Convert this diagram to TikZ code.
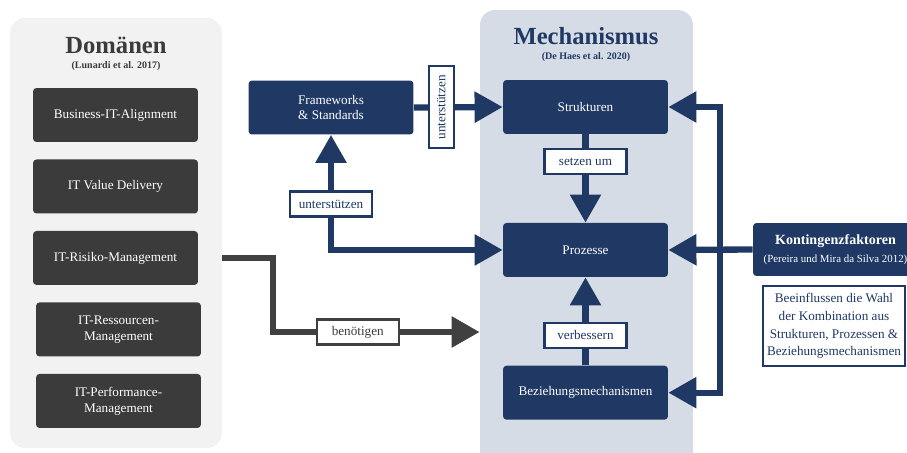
\documentclass[tikz,border=0pt]{standalone}
\usepackage{fontspec}
\setmainfont{Liberation Serif}
\usetikzlibrary{shapes,arrows.meta,positioning}
\definecolor{navy}{RGB}{31,56,100}
\definecolor{darkbox}{RGB}{59,59,59}
\definecolor{grayline}{RGB}{64,64,64}
\definecolor{domgray}{RGB}{242,242,242}
\definecolor{mechblue}{RGB}{214,220,229}
\tikzset{basic/.style={draw=none,rounded corners=2pt,text=white,align=center,font=\fontsize{7.5}{9}\selectfont,minimum width=3.3cm,minimum height=1.08cm}}
\tikzset{dombox/.style={basic,fill=darkbox}}
\tikzset{mechbox/.style={basic,fill=navy}}
\tikzset{panel/.style={rectangle,rounded corners=0.3cm,draw=none}}
\tikzset{conn/.style={draw=navy,line width=3.6pt,>={Triangle[width=17pt,length=16pt]},->}}
\tikzset{grayconn/.style={conn,draw=grayline}}
\tikzset{tagbox/.style={rectangle,draw=navy,line width=1.3pt,fill=white,text=navy,font=\fontsize{7.5}{9}\selectfont,minimum width=1.64cm,minimum height=0.5cm,inner sep=1pt}}
\tikzset{headline/.style={font=\fontsize{14}{16}\selectfont\bfseries}}
\tikzset{citeline/.style={font=\fontsize{5.7}{7}\selectfont\bfseries}}

\begin{document}
\begin{tikzpicture}[x=0.02cm,y=-0.02cm,node distance=1.43cm]
    \useasboundingbox (0,0) rectangle (907,453);

    % panels
    \node[panel,fill=domgray,minimum width=4.24cm,minimum height=8.6cm] (dom) at (116,233) {};
    \node[panel,fill=mechblue,minimum width=4.26cm,minimum height=9.2cm] (mechp) at (586.5,240) {};

    \node[headline,text=darkbox] (domt) at (116,45) {Domänen};
    \node[citeline,text=darkbox] (domc) at (116,66) {(Lunardi et al. 2017)};
    \node[headline,text=navy] (mecht) at (586,36) {Mechanismus};
    \node[citeline,text=navy] (mechc) at (586,57) {(De Haes et al. 2020)};

    % domains
    \node[dombox] (d1) at (115.5,115) {Business-IT-Alignment};
    \node[dombox,below of=d1] (d2) {IT Value Delivery};
    \node[dombox,below of=d2] (d3) {IT-Risiko-Management};
    \node[dombox,below of=d3,xshift=0.06cm] (d4) {IT-Ressourcen-\\Management};
    \node[dombox,below of=d4] (d5) {IT-Performance-\\Management};

    % mechanisms
    \node[mechbox] (struk) at (585.5,107) {Strukturen};
    \node[mechbox,below of=struk,node distance=2.86cm] (proz) {Prozesse};
    \node[mechbox,below of=proz,node distance=2.855cm] (bez) {Beziehungsmechanismen};
    \node[mechbox] (fw) at (331,107.5) {Frameworks\\\& Standards};

    \node[mechbox,minimum height=1.06cm] (kont) at (835.5,249.5) {{\fontsize{8}{10}\selectfont\bfseries Kontingenzfaktoren}\\[1pt]{\fontsize{6.2}{8}\selectfont (Pereira und Mira da Silva 2012)}};
    \node[tagbox,line width=1.5pt,align=center,minimum width=2.84cm,minimum height=1.6cm,font=\fontsize{7.5}{10}\selectfont] (wahl) at (834,326) {Beeinflussen die Wahl\\der Kombination aus\\Strukturen, Prozessen \&\\Beziehungsmechanismen};

    \coordinate (knick) at (273,332);
    \coordinate (gabel) at (720,249.5);

        \path[conn] (fw.east) -- node[tagbox,rotate=90,pos=0.31] (u1) {unterstützen} (struk.west);
        \path[conn,<->] (fw.south) |- node[tagbox,pos=0.3] (u2) {unterstützen} (proz.west);
        \path[grayconn] (dom.east |- d3) -| (knick) -- node[tagbox,draw=grayline,text=darkbox,pos=0.41] (ben) {benötigen} (mechp.west |- knick);
        \path[conn] (struk.south) -- node[tagbox,pos=0.31] (setzen) {setzen um} (proz.north);
        \path[conn] (bez.north) -- node[tagbox,pos=0.34] (verb) {verbessern} (proz.south);
        \path[conn] (kont.west) -- (proz.east);
        \path[conn] (gabel) |- (struk.east);
        \path[conn] (gabel) |- (bez.east);
  \end{tikzpicture}
\end{document}
